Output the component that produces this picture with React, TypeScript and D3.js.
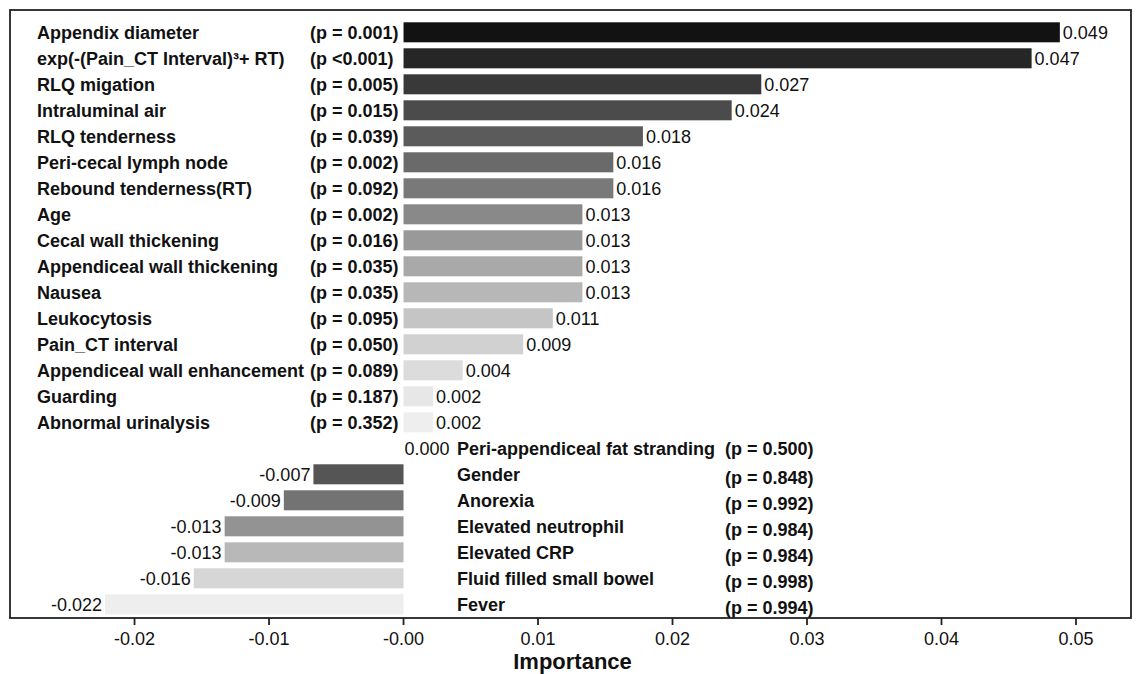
import React from "react";
import * as d3 from "d3";

const features = [
  "Appendix diameter",
  "exp(-(Pain_CT Interval)³+ RT)",
  "RLQ migation",
  "Intraluminal air",
  "RLQ tenderness",
  "Peri-cecal lymph node",
  "Rebound tenderness(RT)",
  "Age",
  "Cecal wall thickening",
  "Appendiceal wall thickening",
  "Nausea",
  "Leukocytosis",
  "Pain_CT interval",
  "Appendiceal wall enhancement",
  "Guarding",
  "Abnormal urinalysis",
  "Peri-appendiceal fat stranding",
  "Gender",
  "Anorexia",
  "Elevated neutrophil",
  "Elevated CRP",
  "Fluid filled small bowel",
  "Fever",
];

const pLabels = [
  "(p = 0.001)",
  "(p <0.001)",
  "(p = 0.005)",
  "(p = 0.015)",
  "(p = 0.039)",
  "(p = 0.002)",
  "(p = 0.092)",
  "(p = 0.002)",
  "(p = 0.016)",
  "(p = 0.035)",
  "(p = 0.035)",
  "(p = 0.095)",
  "(p = 0.050)",
  "(p = 0.089)",
  "(p = 0.187)",
  "(p = 0.352)",
  "(p = 0.500)",
  "(p = 0.848)",
  "(p = 0.992)",
  "(p = 0.984)",
  "(p = 0.984)",
  "(p = 0.998)",
  "(p = 0.994)",
];

const importance = [
  0.0488, 0.0467, 0.0266, 0.0244, 0.0178, 0.0156, 0.0156, 0.0133, 0.0133,
  0.0133, 0.0133, 0.0111, 0.0089, 0.0044, 0.0022, 0.0022, 0.0, -0.0067,
  -0.0089, -0.0133, -0.0133, -0.0156, -0.0222,
];

const barColors = [
  "#121212", "#262626", "#393939", "#4b4b4b", "#5b5b5b", "#6a6a6a",
  "#797979", "#898989", "#999999", "#a9a9a9", "#b7b7b7", "#c5c5c5",
  "#d1d1d1", "#dcdcdc", "#e7e7e7", "#eeeeee", "#f4f4f4", "#555555",
  "#737373", "#939393", "#b8b8b8", "#d6d6d6", "#eeeeee",
];

const tickValues = [-0.02, -0.01, 0, 0.01, 0.02, 0.03, 0.04, 0.05];
const tickLabels = ["-0.02", "-0.01", "-0.00", "0.01", "0.02", "0.03", "0.04", "0.05"];
const axisTitle = "Importance";

const W = 1141;
const H = 674;
const frame = { left: 10, right: 1131, top: 10, bottom: 618 };
const FONT = "'Liberation Sans', Arial, Helvetica, sans-serif";

export default function App() {
  const x = d3
    .scaleLinear()
    .domain([-0.02926, 0.05409])
    .range([frame.left, frame.right]);

  const y = d3
    .scaleBand<number>()
    .domain(d3.range(features.length))
    .range([19.3, 617.3])
    .paddingInner(0.23)
    .paddingOuter(0.115);

  const bw = y.bandwidth();
  const x0 = x(0);
  const fmt = (v: number) => v.toFixed(3);
  const splitIndex = 16; // first row of the lower (right-labelled) group

  return (
    <svg
      width={W}
      height={H}
      viewBox={`0 0 ${W} ${H}`}
      style={{ position: "absolute", left: 0, top: 0, background: "#fff" }}
      fontFamily={FONT}
    >
      <rect x={0} y={0} width={W} height={H} fill="#fff" />
      {importance.map((v, i) => {
        const yc = (y(i) as number) + bw / 2;
        const upper = i < splitIndex;
        const bx = Math.min(x(v), x0);
        const bwid = Math.abs(x(v) - x0);
        let valueLabel: React.ReactNode;
        if (v > 0) {
          valueLabel = (
            <text x={x(v) + 3} y={yc + 6.5} fontSize={18} fill="#111">
              {fmt(v)}
            </text>
          );
        } else if (v < 0) {
          valueLabel = (
            <text x={x(v) - 3} y={yc + 6.5} fontSize={18} fill="#111" textAnchor="end">
              {fmt(v)}
            </text>
          );
        } else {
          valueLabel = (
            <text x={x0 + 1} y={yc + 6.5} fontSize={18} fill="#111">
              {fmt(v)}
            </text>
          );
        }
        const pShift = upper || i === splitIndex ? 0 : 3;
        return (
          <g key={i}>
            {bwid > 0 && (
              <rect x={bx} y={y(i)} width={bwid} height={bw} fill={barColors[i]} />
            )}
            {valueLabel}
            <text
              x={upper ? 37 : 457}
              y={yc + 6.5}
              fontSize={18}
              fontWeight="bold"
              fill="#111"
            >
              {features[i]}
            </text>
            <text
              x={upper ? 310 : 725}
              y={yc + 6.5 + pShift}
              fontSize={18}
              fontWeight="bold"
              fill="#111"
            >
              {pLabels[i]}
            </text>
          </g>
        );
      })}

      <rect
        x={frame.left}
        y={frame.top}
        width={frame.right - frame.left}
        height={frame.bottom - frame.top}
        fill="none"
        stroke="#222"
        strokeWidth={1.8}
      />

      {tickValues.map((t, i) => (
        <g key={t}>
          <line
            x1={x(t)}
            x2={x(t)}
            y1={frame.bottom}
            y2={frame.bottom + 7}
            stroke="#222"
            strokeWidth={1.8}
          />
          <text
            x={x(t)}
            y={645}
            textAnchor="middle"
            fontSize={18}
            fill="#111"
          >
            {tickLabels[i]}
          </text>
        </g>
      ))}

      <text
        x={(frame.left + frame.right) / 2 + 2}
        y={669}
        textAnchor="middle"
        fontSize={22}
        fontWeight="bold"
        fill="#111"
      >
        {axisTitle}
      </text>
    </svg>
  );
}
